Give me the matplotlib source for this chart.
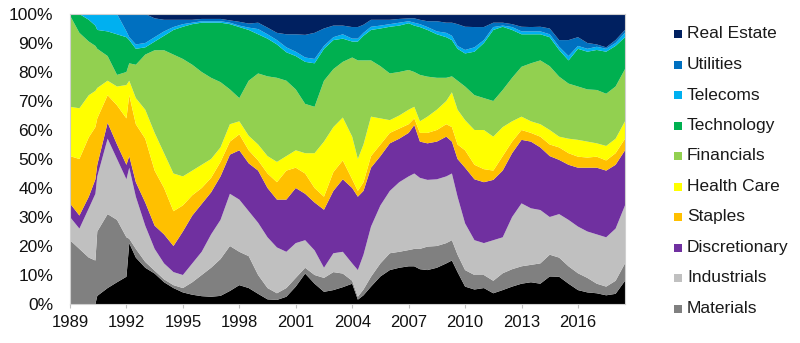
import numpy as np
import matplotlib
matplotlib.use("Agg")
import matplotlib.pyplot as plt
from matplotlib.patches import Rectangle

plt.rcParams['font.family'] = ['Liberation Sans', 'DejaVu Sans']

years = [1989.0, 1989.5, 1990.0, 1990.35, 1990.45, 1991.0, 1991.5, 1992.0, 1992.15, 1992.5, 1993.0,
         1993.5, 1994.0, 1994.5, 1995.0, 1995.5, 1996.0, 1996.5, 1997.0, 1997.5, 1998.0,
         1998.5, 1999.0, 1999.5, 2000.0, 2000.5, 2001.0, 2001.5, 2002.0, 2002.5, 2003.0,
         2003.5, 2004.0, 2004.3, 2004.6, 2005.0, 2005.5, 2006.0, 2006.5, 2007.0, 2007.3,
         2007.6, 2008.0, 2008.5, 2009.0, 2009.3, 2009.6, 2010.0, 2010.5, 2011.0, 2011.5,
         2012.0, 2012.5, 2013.0, 2013.5, 2014.0, 2014.5, 2015.0, 2015.5, 2016.0, 2016.5,
         2017.0, 2017.5, 2018.0, 2018.5]

# Cumulative upper edge (%) of each sector band (bottom to top)
energy_top = [0, 0, 0, 0, 2.8, 5.5, 7.5, 9.4, 21, 16, 12.5,
              10.5, 7.5, 5.5, 4, 3.2, 2.7, 2.5, 2.8, 4.5, 6.5,
              5.5, 3.5, 1.6, 1.4, 2.5, 6, 10.5, 7, 4.2, 4.8,
              5.8, 7, 1.5, 3, 6, 9.5, 11.7, 12.5, 13, 13,
              12, 11.7, 12.5, 14, 15, 11, 6, 5, 5.5, 3.7,
              4.8, 6, 7, 7.5, 7, 9.5, 9.4, 7, 4.8, 4,
              3.7, 3, 3.5, 8]
materials_top = [22, 19, 16, 15, 25, 31, 29, 23, 22.5, 19, 14.5,
                 11.5, 8.5, 6.5, 5.5, 7.5, 10, 12.5, 15.5, 20, 18,
                 16.5, 10, 5.5, 3.7, 5.5, 9, 12.5, 10, 9, 11,
                 10.5, 8, 2.5, 5, 9.4, 14, 17.5, 18, 18.6, 19,
                 19, 19.8, 20, 21, 22, 17, 11.7, 10, 10, 8,
                 10.6, 12, 13, 13.5, 14, 17, 16, 13, 10.6, 9,
                 7, 6, 8, 14]
industrials_top = [30, 26, 33, 38, 44, 57, 50, 43, 47, 37, 27,
                   19, 14, 11, 10, 14, 18, 24, 29, 38, 36,
                   32, 28, 23, 19.5, 18, 21, 22, 18.5, 12.5, 17.5,
                   18, 14, 11.7, 17, 26.7, 34, 39, 42, 44, 45,
                   43.5, 42.8, 43, 44, 45, 37, 27.8, 22, 21, 22,
                   23, 30, 34.7, 33, 32.4, 30, 31, 29, 26.7, 25,
                   24, 23, 26, 34]
discretionary_top = [34.7, 30.5, 37, 43, 48, 62.5, 55, 48, 51, 42, 35,
                     27, 24, 20, 25, 30.5, 34.5, 38.5, 44, 51.5, 53,
                     48.5, 46, 40, 36, 36, 40, 38, 35, 32.5, 39,
                     43, 40, 37, 39, 47, 51, 55.4, 57, 59, 61.7,
                     56, 55.4, 56, 57.7, 56, 50, 47, 43, 42, 42.8,
                     46, 52, 56.6, 56, 54, 51, 49.7, 48, 47, 47,
                     47, 46, 48, 53]
staples_top = [51, 50, 57.5, 61, 64, 72, 68.5, 64, 72, 62, 57,
               46, 40, 32, 34, 37.5, 40, 43.5, 49, 56, 58.5,
               53, 49.5, 45, 42, 46, 47, 45, 40, 37, 45.5,
               49.5, 43, 39, 42, 51, 55, 59, 60.5, 62, 64,
               59, 59, 60, 62, 61, 55, 53, 48, 46.5, 46,
               51, 56, 60, 59, 57.7, 55, 54, 52, 50.8, 50.5,
               50.8, 49.5, 52, 57]
healthcare_top = [68, 67.5, 72, 73.5, 74.5, 77, 75, 75.5, 77, 71, 67,
                  59, 52, 45, 44, 46, 48, 50, 54, 62, 63,
                  58, 55, 51, 49, 51, 53, 52, 52, 56, 61,
                  64.3, 57.7, 50, 55, 64.6, 64, 63.4, 65, 67, 68,
                  63, 64.6, 67, 70, 73, 67, 63.4, 60, 60, 57.7,
                  61, 63, 64.6, 63, 62, 60, 57.7, 57, 56.6, 56,
                  55.4, 54.5, 57, 63]
financials_top = [99.5, 93.5, 90.5, 89, 88, 85.5, 79, 80, 83, 82.5, 86,
                  87.5, 87.5, 86, 84.5, 82.5, 80, 78, 76.5, 74, 71,
                  77, 79.5, 78.5, 78, 77, 74, 69, 68, 77, 81,
                  83.5, 85, 84, 84, 84, 82, 79.5, 80, 80.7, 80,
                  79, 78.4, 78, 78, 78.5, 77, 75, 72, 71, 70,
                  73.8, 78, 81.8, 83, 84, 82, 78.4, 76, 75, 74,
                  73.8, 72.5, 75, 81]
technology_top = [100, 100, 98, 96, 94.5, 94, 93, 92, 91, 88, 88.5,
                  90.5, 92.5, 94.5, 95.6, 96.5, 97, 97, 97, 96.5, 95.5,
                  94.5, 93, 91.5, 89.5, 86.8, 85.5, 83.5, 83, 88, 91,
                  91.5, 90.5, 90.5, 92.5, 94.5, 95, 95.6, 96, 96.8, 96,
                  95.5, 94.5, 93, 92, 91, 88, 86.4, 87, 90, 94.5,
                  95.6, 94.5, 93, 93, 93, 92, 87.6, 84, 88, 87,
                  87.6, 87, 89, 92]
telecoms_top = [100, 100, 100, 100, 100, 100, 100, 94, 92, 89.5, 90,
                92, 94, 95.5, 96.5, 97, 97.5, 97.5, 97.5, 97, 96,
                95.3, 94.8, 93, 91, 88.5, 87, 85, 84.5, 89, 92,
                93, 91.5, 91.5, 93.5, 95.6, 96, 96.5, 97, 97.5, 97,
                96.5, 95.5, 94, 93.5, 92.5, 89, 87.6, 88.5, 91, 95.5,
                96, 95.5, 94, 94, 94, 93, 88.7, 85.5, 89, 88,
                88.7, 88, 90, 93.5]
utilities_top = [100, 100, 100, 100, 100, 100, 100, 100, 100, 100, 100,
                 98.5, 98, 98, 98, 98, 98.3, 98.3, 98.3, 97.8, 97.3,
                 96.7, 97, 95.3, 93.5, 93, 93, 92.8, 93.5, 95, 96,
                 96, 95.5, 95.5, 96.3, 98, 98, 98, 98.3, 98.5, 98.5,
                 98, 97.5, 97.5, 97, 97, 96.5, 95.6, 95.5, 95.5, 97,
                 97, 96.5, 95.6, 95.5, 95.6, 95, 91, 91, 92, 90,
                 89.5, 88.5, 91, 94.5]
realestate_top = [100] * len(years)

sectors = ['Energy', 'Materials', 'Industrials', 'Discretionary', 'Staples', 'Health Care',
           'Financials', 'Technology', 'Telecoms', 'Utilities', 'Real Estate']
colors = ['#000000', '#808080', '#C0C0C0', '#7030A0', '#FFC000', '#FFFF00',
          '#92D050', '#00B050', '#00B0F0', '#0070C0', '#002060']
legend_sectors = ['Real Estate', 'Utilities', 'Telecoms', 'Technology', 'Financials',
                  'Health Care', 'Staples', 'Discretionary', 'Industrials', 'Materials']
xtick_years = list(range(1989, 2017, 3))
ytick_vals = list(range(0, 101, 10))

tops = np.array([energy_top, materials_top, industrials_top, discretionary_top,
                 staples_top, healthcare_top, financials_top, technology_top,
                 telecoms_top, utilities_top, realestate_top], dtype=float)
weights = np.diff(np.vstack([np.zeros(len(years)), tops]), axis=0)

fig = plt.figure(figsize=(8, 3.43), dpi=100)
ax = fig.add_axes([70 / 800, 1 - 304 / 343, (625 - 70) / 800, (304 - 14) / 343])
ax.stackplot(years, weights, colors=colors, linewidth=0)

ax.set_xlim(1989, 2018.5)
ax.set_ylim(0, 100)
ax.set_xticks(xtick_years)
ax.set_xticklabels([str(y) for y in xtick_years], fontsize=12, color='#111111')
ax.set_yticks(ytick_vals)
ax.set_yticklabels([f'{v}%' for v in ytick_vals], fontsize=12.5, color='#111111')
ax.tick_params(axis='y', length=0, pad=12)
ax.tick_params(axis='x', length=3, color='#BFBFBF', pad=5)
for s in ax.spines.values():
    s.set_color('#D0D0D0')
    s.set_linewidth(0.8)

color_map = dict(zip(sectors, colors))
for i, name in enumerate(legend_sectors):
    yc = 1 - (34 + i * 30.5) / 343
    fig.add_artist(Rectangle((674 / 800, yc - 4 / 343), 8 / 800, 8 / 343,
                             transform=fig.transFigure, facecolor=color_map[name],
                             edgecolor='none'))
    fig.text(687 / 800, yc, name, fontsize=12.5, va='center', ha='left', color='#1a1a1a')

fig.savefig('out.png', dpi=100)
